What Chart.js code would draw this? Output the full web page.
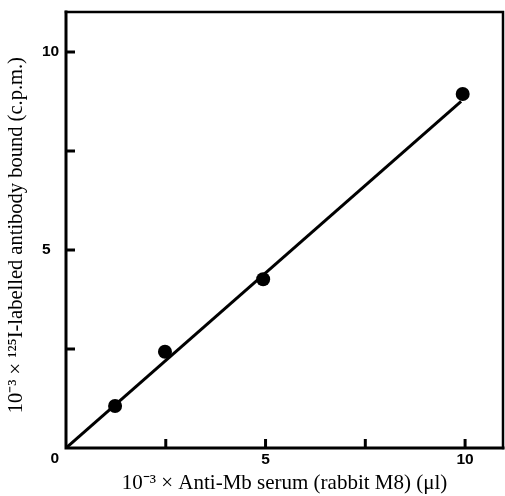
<!DOCTYPE html>
<html>
<head>
<meta charset="utf-8">
<script src="https://cdn.jsdelivr.net/npm/chart.js@4"></script>
<style>
    html, body { margin: 0; padding: 0; background: #fff; }
</style>
</head>
<body>
<canvas id="grafico" width="505" height="496"></canvas>
<script>
// Dados
const soroX = [1.23, 2.48, 4.94, 9.94];
const ligadoY = [1.06, 2.43, 4.26, 8.94];
// Reta ajustada (origem até o último ponto)
const retaX = [0, 9.9];
const retaY = [0, 8.75];
// Marcas dos eixos e rótulos
const marcas = [0, 2.5, 5, 7.5, 10];
const rotulos = { 5: '5', 10: '10' };

const tituloX = '10\u207B\u00B3 \u00D7 Anti-Mb serum (rabbit M8) (\u03BCl)';
const tituloY = '10\u207B\u00B3 \u00D7 \u00B9\u00B2\u2075I-labelled antibody bound (c.p.m.)  ';

// Moldura e marcas para dentro, como no original
const moldura = {
    id: 'moldura',
    afterDraw(chart) {
        const ctx = chart.ctx;
        const a = chart.chartArea;
        ctx.save();
        ctx.strokeStyle = '#000';
        ctx.lineCap = 'square';
        ctx.lineWidth = 3;
        ctx.beginPath();
        ctx.moveTo(a.left, a.top);
        ctx.lineTo(a.left, a.bottom);
        ctx.lineTo(a.right, a.bottom);
        ctx.stroke();
        ctx.lineWidth = 2.5;
        ctx.beginPath();
        ctx.moveTo(a.left, a.top);
        ctx.lineTo(a.right, a.top);
        ctx.lineTo(a.right, a.bottom);
        ctx.stroke();

        ctx.lineWidth = 3;
        ctx.lineCap = 'butt';
        chart.scales.x.ticks.forEach(t => {
            if (t.value === 0) return;
            const px = chart.scales.x.getPixelForValue(t.value);
            ctx.beginPath();
            ctx.moveTo(px, a.bottom);
            ctx.lineTo(px, a.bottom - 9);
            ctx.stroke();
        });
        chart.scales.y.ticks.forEach(t => {
            if (t.value === 0) return;
            const py = chart.scales.y.getPixelForValue(t.value);
            ctx.beginPath();
            ctx.moveTo(a.left, py);
            ctx.lineTo(a.left + 9, py);
            ctx.stroke();
        });
        ctx.restore();
    }
};

const ctx = document.getElementById('grafico').getContext('2d');
new Chart(ctx, {
    type: 'scatter',
    data: {
        datasets: [{
            type: 'line',
            data: retaX.map((x, i) => ({ x: x, y: retaY[i] })),
            borderColor: '#000',
            borderWidth: 3,
            pointRadius: 0,
            fill: false
        }, {
            data: soroX.map((x, i) => ({ x: x, y: ligadoY[i] })),
            backgroundColor: '#000',
            borderWidth: 0,
            pointRadius: 7
        }]
    },
    options: {
        responsive: false,
        animation: false,
        layout: { autoPadding: false, padding: { left: 42, top: 12, right: 2, bottom: 0 } },
        plugins: {
            legend: { display: false },
            tooltip: { enabled: false }
        },
        scales: {
            x: {
                type: 'linear',
                min: 0,
                max: 10.95,
                afterFit: s => { s.height = 48; },
                afterBuildTicks: s => { s.ticks = marcas.map(v => ({ value: v })); },
                grid: { display: false, drawTicks: false },
                border: { display: false },
                ticks: {
                    autoSkip: false,
                    maxRotation: 0,
                    padding: 2,
                    color: '#000',
                    font: { family: 'Liberation Sans', size: 15.5, weight: 'bold' },
                    callback: v => rotulos[v] || ''
                },
                title: {
                    display: true,
                    text: tituloX,
                    color: '#000',
                    font: { family: 'Liberation Serif', size: 21 },
                    padding: { top: 0, bottom: 0 }
                }
            },
            y: {
                type: 'linear',
                min: 0,
                max: 11.01,
                afterFit: s => { s.width = 24; },
                afterBuildTicks: s => { s.ticks = marcas.map(v => ({ value: v })); },
                grid: { display: false, drawTicks: false },
                border: { display: false },
                ticks: {
                    autoSkip: false,
                    crossAlign: 'far',
                    padding: 0,
                    color: '#000',
                    font: { family: 'Liberation Sans', size: 15.5, weight: 'bold', lineHeight: 1.42 },
                    callback: v => v === 0 ? ['', '\u20070'] : (rotulos[v] || '')
                },
                title: {
                    display: true,
                    text: tituloY,
                    color: '#000',
                    font: { family: 'Liberation Serif', size: 20.5 },
                    padding: { top: -37.5, bottom: 0 }
                }
            }
        }
    },
    plugins: [moldura]
});
</script>
</body>
</html>
